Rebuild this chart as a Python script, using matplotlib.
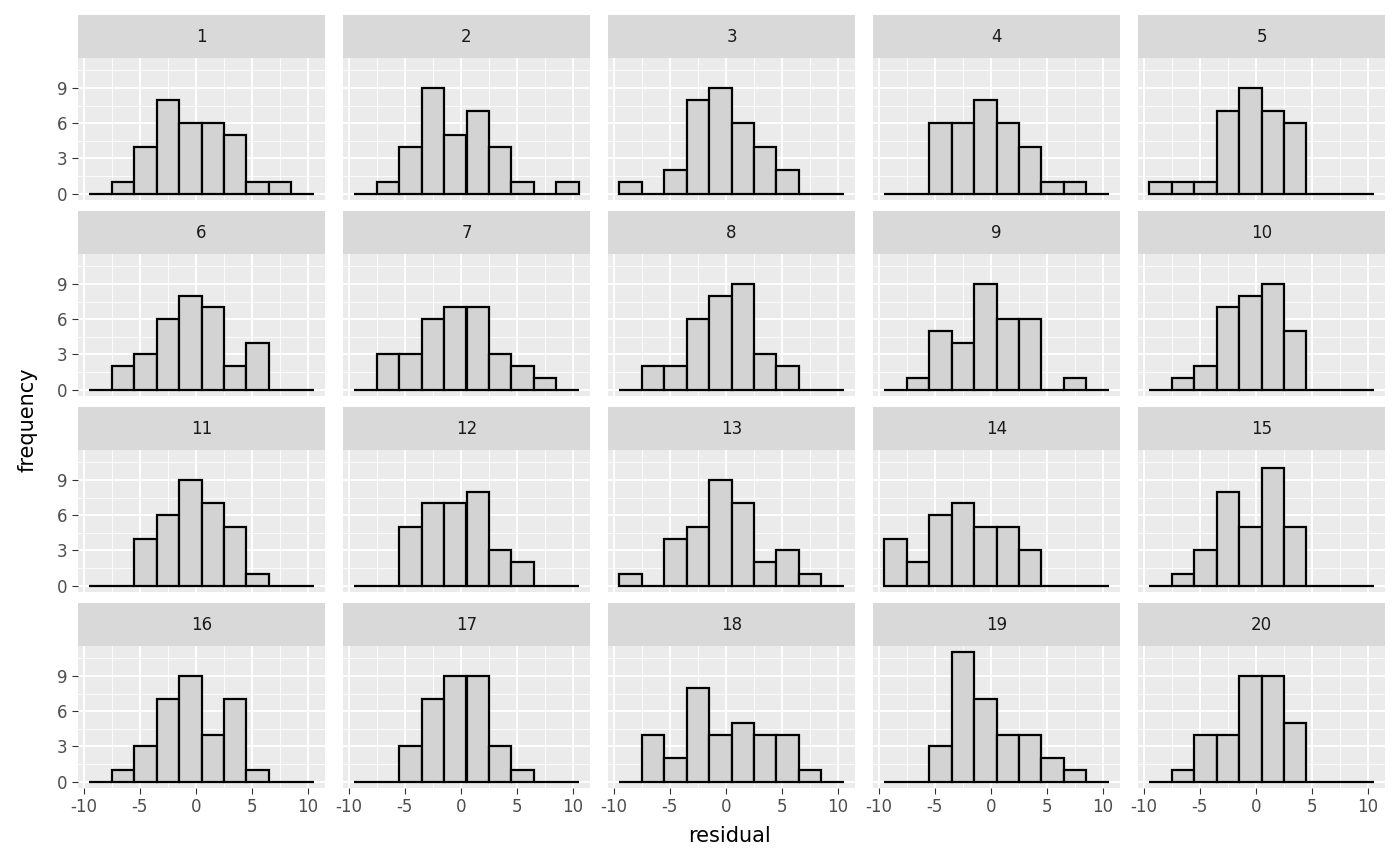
import matplotlib
matplotlib.use("Agg")
import matplotlib.pyplot as plt
import numpy as np

bin_centers = [-8.5, -6.5, -4.5, -2.5, -0.5, 1.5, 3.5, 5.5, 7.5, 9.5]
panel_labels = [str(i) for i in range(1, 21)]
counts = [
    [0, 1, 4, 8, 6, 6, 5, 1, 1, 0],
    [0, 1, 4, 9, 5, 7, 4, 1, 0, 1],
    [1, 0, 2, 8, 9, 6, 4, 2, 0, 0],
    [0, 0, 6, 6, 8, 6, 4, 1, 1, 0],
    [1, 1, 1, 7, 9, 7, 6, 0, 0, 0],
    [0, 2, 3, 6, 8, 7, 2, 4, 0, 0],
    [0, 3, 3, 6, 7, 7, 3, 2, 1, 0],
    [0, 2, 2, 6, 8, 9, 3, 2, 0, 0],
    [0, 1, 5, 4, 9, 6, 6, 0, 1, 0],
    [0, 1, 2, 7, 8, 9, 5, 0, 0, 0],
    [0, 0, 4, 6, 9, 7, 5, 1, 0, 0],
    [0, 0, 5, 7, 7, 8, 3, 2, 0, 0],
    [1, 0, 4, 5, 9, 7, 2, 3, 1, 0],
    [4, 2, 6, 7, 5, 5, 3, 0, 0, 0],
    [0, 1, 3, 8, 5, 10, 5, 0, 0, 0],
    [0, 1, 3, 7, 9, 4, 7, 1, 0, 0],
    [0, 0, 3, 7, 9, 9, 3, 1, 0, 0],
    [0, 4, 2, 8, 4, 5, 4, 4, 1, 0],
    [0, 0, 3, 11, 7, 4, 4, 2, 1, 0],
    [0, 1, 4, 4, 9, 9, 5, 0, 0, 0],
]
x_ticks = [-10, -5, 0, 5, 10]
y_ticks = [0, 3, 6, 9]

W, H = 1400, 866
fig = plt.figure(figsize=(14, 8.66), dpi=100)
col_x = [78, 343, 608, 873, 1138]
pw = 247
row_strip = [15, 211, 407, 603]
sh, ph = 43, 142

for i in range(20):
    r, c = divmod(i, 5)
    x0 = col_x[c]
    ys = row_strip[r]
    sax = fig.add_axes([x0 / W, 1 - (ys + sh) / H, pw / W, sh / H])
    sax.set_facecolor("#D9D9D9")
    sax.set_xticks([]); sax.set_yticks([])
    for s in sax.spines.values():
        s.set_visible(False)
    sax.text(0.5, 0.5, panel_labels[i], ha="center", va="center", fontsize=12, color="#1A1A1A")
    ax = fig.add_axes([x0 / W, 1 - (ys + sh + ph) / H, pw / W, ph / H])
    ax.set_facecolor("#EBEBEB")
    ax.set_axisbelow(True)
    ax.set_xlim(-10.5, 11.5)
    ax.set_ylim(-0.55, 11.55)
    ax.set_xticks(x_ticks)
    ax.set_xticks([-7.5, -2.5, 2.5, 7.5], minor=True)
    ax.set_yticks(y_ticks)
    ax.set_yticks([1.5, 4.5, 7.5, 10.5], minor=True)
    ax.grid(which="major", color="white", lw=1.3)
    ax.grid(which="minor", color="white", lw=0.6)
    for s in ax.spines.values():
        s.set_visible(False)
    ax.tick_params(which="minor", length=0)
    ax.tick_params(which="major", length=4, color="#333333", labelsize=12, labelcolor="#4D4D4D")
    if c != 0:
        ax.tick_params(axis="y", labelleft=False, length=0)
    if r != 3:
        ax.tick_params(axis="x", labelbottom=False, length=0)
    else:
        ax.set_xticklabels([str(t) for t in x_ticks])
    ax.bar(bin_centers, counts[i], width=2, facecolor="#D3D3D3", edgecolor="black", linewidth=1.6)

fig.text(730 / W, 1 - 836 / H, "residual", ha="center", va="center", fontsize=15)
fig.text(28 / W, 1 - 420 / H, "frequency", ha="center", va="center", fontsize=15, rotation=90)
fig.savefig("out.png", dpi=100, facecolor="white")
